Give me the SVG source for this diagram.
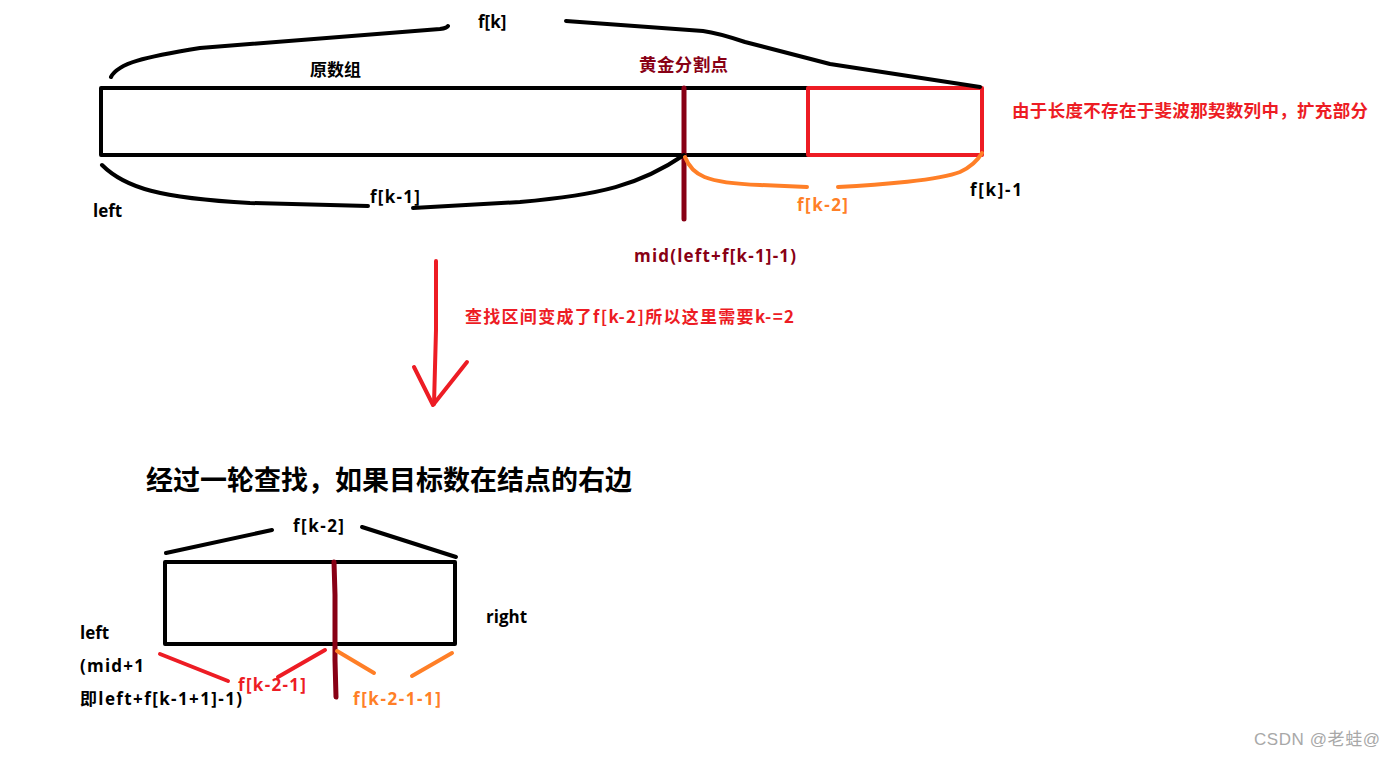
<svg xmlns="http://www.w3.org/2000/svg" width="1395" height="757" viewBox="0 0 1395 757">
<style>
text{font-family:"Open Sans","Noto Sans CJK SC",sans-serif;font-weight:bold;font-size:17px}
.cjk{font-family:"Noto Sans CJK SC",sans-serif}
.big{font-size:17.5px}
.ttl{font-size:27px}
.k{fill:#000}
.dr{fill:#880015}
.r{fill:#ed1c24}
.o{fill:#ff7f27}
.ln{fill:none;stroke-linecap:round;stroke-linejoin:round}
.sk{stroke:#000;stroke-width:4}
.sdr{stroke:#880015;stroke-width:5}
.sr{stroke:#ed1c24;stroke-width:4}
.so{stroke:#ff7f27;stroke-width:4}
.wm{font-family:"Liberation Sans","Noto Sans CJK SC",sans-serif;font-weight:normal;font-size:17px;fill:#a8a8a8}
</style>
<rect width="1395" height="757" fill="#fff"/>

<g id="top-array">
<polyline class="ln sk" points="808,88 101,88 101,155 808,155" stroke-linecap="butt"/>
<text class="cjk k" x="310" y="76">原数组</text>
</g>
<g id="extension">
<rect x="808" y="88" width="174" height="67" class="ln sr"/>
<text class="cjk r big" x="1012" y="117" textLength="356">由于长度不存在于斐波那契数列中，扩充部分</text>
</g>
<g id="golden-point">
<line class="ln sdr" x1="684" y1="88" x2="684" y2="219" stroke-linecap="butt"/>
<text class="cjk dr big" x="639" y="71" textLength="89">黄金分割点</text>
<text class="dr" x="634" y="262" textLength="162">mid(left+f[k-1]-1)</text>
</g>
<g id="top-labels">
<text class="k" x="478" y="28">f[k]</text>
<text class="k" x="370" y="203" textLength="50">f[k-1]</text>
<text class="k" x="93" y="217">left</text>
<text class="o" x="797" y="211" textLength="51">f[k-2]</text>
<text class="k" x="970" y="196" textLength="52">f[k]-1</text>
</g>
<g id="step-note">
<text class="cjk r" x="465" y="323" textLength="329">查找区间变成了f[k-2]所以这里需要k-=2</text>
</g>
<g id="title">
<text class="cjk k ttl" x="146" y="490" textLength="486">经过一轮查找，如果目标数在结点的右边</text>
</g>
<g id="bottom-array">
<rect x="165" y="562" width="290" height="82" class="ln sk" stroke-linejoin="miter"/>
<polyline class="ln sdr" points="334,562 335,595 335,660 336,697" stroke-linecap="butt"/>
<text class="k" x="293" y="532" textLength="51">f[k-2]</text>
<text class="k" x="486" y="623">right</text>
<text class="k" x="80" y="639">left</text>
<text class="k" x="80" y="672" textLength="64">(mid+1</text>
<text class="k" x="80" y="705" textLength="162">即left+f[k-1+1]-1)</text>
<text class="r" x="238" y="691" textLength="68">f[k-2-1]</text>
<text class="o" x="353" y="705" textLength="88">f[k-2-1-1]</text>
</g>
<g id="connectors">
<path class="ln sk" d="M111,77 C118,63 145,57 200,48 L440,29 Q447,28 448,26"/>
<path class="ln sk" d="M566,21 L703,31 Q718,33 745,42 L830,64 L980,87"/>
<path class="ln sk" d="M102,165 C125,188 160,198 250,203 L368,206"/>
<path class="ln sk" d="M413,208 L520,202 C600,195 640,185 684,155"/>
<path class="ln so" d="M685,157 C692,175 705,183 760,185 L807,187"/>
<path class="ln so" d="M838,187 C880,185 940,180 960,172 Q975,165 982,153"/>
<path class="ln sk" d="M166,553 L272,530"/>
<path class="ln sk" d="M362,527 L456,557"/>
<line class="ln sr" x1="160" y1="654" x2="228" y2="681"/>
<line class="ln sr" x1="325" y1="650" x2="278" y2="677"/>
<line class="ln so" x1="337" y1="651" x2="374" y2="673"/>
<line class="ln so" x1="412" y1="676" x2="452" y2="653"/>
<polyline class="ln sr" points="436,261 436,330 434,404"/>
<polyline class="ln sr" points="414,367 433,405 467,362"/>
</g>
<text class="wm" x="1254" y="745" textLength="126">CSDN @老蛙@</text>
</svg>
